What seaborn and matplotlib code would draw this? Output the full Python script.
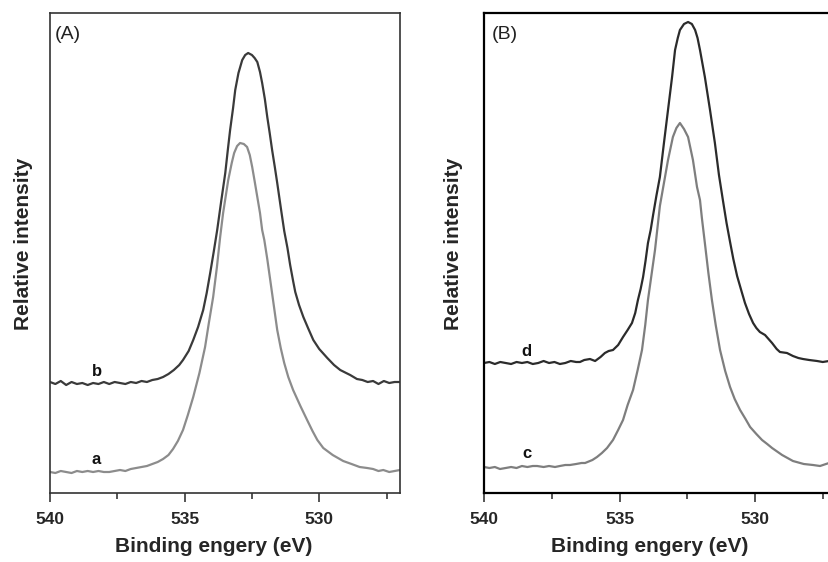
import pandas as pd
import matplotlib
matplotlib.use("Agg")
import matplotlib.pyplot as plt
import seaborn as sns

# Panel A, curve a (grey, lower)
a_energy = [540.0, 539.8, 539.6, 539.4, 539.2, 539.0, 538.8, 538.6, 538.4, 538.2, 538.0, 537.8,
            537.6, 537.4, 537.2, 537.0, 536.8, 536.6, 536.4, 536.2, 536.0, 535.8, 535.6, 535.43,
            535.25, 535.06, 534.88, 534.68, 534.45, 534.24, 534.1, 533.94, 533.8, 533.68, 533.57,
            533.38, 533.25, 533.16, 533.05, 532.94, 532.8, 532.68, 532.58, 532.49, 532.4, 532.3,
            532.2, 532.12, 532.04, 531.93, 531.82, 531.69, 531.56, 531.43, 531.3, 531.15, 530.97,
            530.7, 530.45, 530.25, 530.07, 529.85, 529.5, 529.11, 528.8, 528.5, 528.22, 528.0,
            527.8, 527.62, 527.4, 527.2, 527.0]
a_intensity = [21, 20, 22, 21, 20, 22, 21, 22, 21, 22, 21, 21,
               22, 23, 22, 24, 25, 26, 27, 29, 31, 34, 38, 44,
               52, 63, 78, 96, 120, 146, 170, 196, 226, 256, 280,
               313, 330, 340, 347, 350, 349, 346, 338, 326, 312, 296,
               280, 263, 253, 234, 213, 188, 163, 145, 130, 116, 103,
               87, 73, 62, 53, 45, 38, 32, 29, 26, 25, 24,
               22, 23, 21, 22, 23]

# Panel A, curve b (dark, upper)
b_energy = [540.0, 539.8, 539.6, 539.4, 539.2, 539.0, 538.8, 538.6, 538.4, 538.2, 538.0, 537.8,
            537.6, 537.4, 537.2, 537.0, 536.8, 536.6, 536.4, 536.2, 536.0, 535.8, 535.6, 535.4,
            535.2, 535.06, 534.85, 534.68, 534.5, 534.31, 534.18, 534.05, 533.92, 533.79, 533.64,
            533.49, 533.4, 533.31, 533.2, 533.12, 533.0, 532.86, 532.75, 532.64, 532.5, 532.4,
            532.3, 532.2, 532.12, 532.02, 531.93, 531.84, 531.75, 531.65, 531.56, 531.41, 531.3,
            531.18, 531.08, 530.97, 530.89, 530.75, 530.59, 530.4, 530.22, 530.0, 529.7, 529.45,
            529.22, 529.0, 528.85, 528.6, 528.4, 528.2, 528.0, 527.8, 527.6, 527.4, 527.2, 527.0]
b_intensity = [111, 109, 112, 108, 111, 109, 110, 108, 110, 109, 111, 109,
               111, 110, 109, 111, 110, 112, 111, 113, 114, 116, 119, 123,
               128, 133, 142, 153, 166, 183, 200, 220, 241, 263, 292,
               320, 342, 363, 385, 403, 420, 433, 438, 440, 438, 435,
               431, 421, 410, 394, 376, 360, 343, 326, 310, 282, 262,
               245, 228, 212, 201, 188, 176, 164, 153, 144, 135, 128,
               123, 120, 118, 114, 113, 111, 112, 109, 112, 110, 111, 111]

# Panel B, curve c (grey, lower)
c_energy = [540.0, 539.8, 539.6, 539.41, 539.2, 539.0, 538.8, 538.6, 538.4, 538.2, 538.04, 537.8,
            537.6, 537.38, 537.2, 537.0, 536.83, 536.6, 536.4, 536.27, 536.0, 535.83, 535.65,
            535.46, 535.24, 535.05, 534.87, 534.7, 534.5, 534.33, 534.17, 534.05, 533.95, 533.82,
            533.69, 533.6, 533.51, 533.36, 533.21, 533.03, 532.9, 532.77, 532.62, 532.47, 532.29,
            532.14, 532.03, 531.96, 531.85, 531.72, 531.59, 531.45, 531.29, 531.1, 530.92, 530.75,
            530.55, 530.35, 530.18, 529.95, 529.74, 529.55, 529.37, 529.0, 528.6, 528.2, 527.86,
            527.6, 527.27, 527.0]
c_intensity = [26, 25, 26, 24, 25, 26, 25, 27, 26, 27, 27, 26,
               27, 26, 27, 28, 28, 29, 30, 30, 33, 36, 40,
               45, 53, 63, 73, 88, 103, 123, 143, 168, 193, 218,
               243, 265, 287, 310, 333, 356, 365, 370, 364, 356, 333,
               306, 293, 275, 250, 220, 193, 168, 143, 122, 106, 94,
               83, 74, 66, 59, 53, 49, 45, 38, 32, 29, 28,
               27, 30, 28]

# Panel B, curve d (dark, upper)
d_energy = [540.0, 539.8, 539.6, 539.4, 539.2, 539.0, 538.8, 538.6, 538.4, 538.2, 538.0, 537.8,
            537.6, 537.4, 537.2, 537.0, 536.8, 536.6, 536.46, 536.3, 536.09, 535.9, 535.7, 535.54,
            535.4, 535.24, 535.05, 534.87, 534.7, 534.54, 534.42, 534.32, 534.22, 534.13, 534.04,
            533.95, 533.85, 533.76, 533.64, 533.51, 533.36, 533.21, 533.06, 532.95, 532.85, 532.77,
            532.62, 532.47, 532.33, 532.21, 532.12, 532.03, 531.85, 531.66, 531.48, 531.33, 531.18,
            531.05, 530.92, 530.8, 530.66, 530.5, 530.37, 530.22, 530.07, 529.95, 529.82, 529.63,
            529.5, 529.37, 529.2, 529.08, 528.82, 528.6, 528.4, 528.23, 528.0, 527.71, 527.5,
            527.27, 527.0]
d_intensity = [130, 131, 129, 131, 130, 129, 131, 130, 131, 129, 130, 132,
               130, 131, 129, 130, 132, 131, 131, 133, 134, 132, 136, 140,
               142, 143, 148, 156, 163, 170, 180, 193, 204, 216, 232,
               250, 263, 278, 297, 316, 350, 383, 416, 443, 455, 463,
               469, 471, 469, 463, 455, 443, 416, 383, 350, 318, 292,
               270, 251, 234, 217, 202, 190, 179, 170, 165, 161, 158,
               154, 150, 144, 141, 140, 137, 135, 134, 133, 132, 131,
               132, 131]

tick_values = [540, 535, 530]
tick_labels = ["540", "535", "530"]
minor_values = [537.5, 532.5, 527.5]

sns.set_style("ticks")
plt.rcParams['font.family'] = ['Liberation Sans', 'DejaVu Sans']

fig = plt.figure(figsize=(8.29, 5.62), dpi=100)
ax_a = fig.add_axes([50 / 829, 69 / 562, 350 / 829, 480 / 562])
ax_b = fig.add_axes([484 / 829, 69 / 562, 352.3 / 829, 480 / 562])

panels = [
    (ax_a, "(A)", [(a_energy, a_intensity, "#8c8c8c", "a"), (b_energy, b_intensity, "#3a3a3a", "b")],
     -0.049, 0.467, 0.014, 1.2, "#333333", 538.27),
    (ax_b, "(B)", [(c_energy, c_intensity, "#7e7e7e", "c"), (d_energy, d_intensity, "#2b2b2b", "d")],
     -0.060, 0.469, 0.023, 1.6, "black", 538.42),
]

for ax, tag, curves, ylab_x, xlab_x, tag_x, spine_w, spine_c, label_e in panels:
    for energy, intensity, color, name in curves:
        df = pd.DataFrame({"energy": energy, "intensity": intensity})
        sns.lineplot(data=df, x="energy", y="intensity", ax=ax, color=color, linewidth=1.6)
        # curve letter sits just above the left baseline
        ax.text(label_e, intensity[9] + 12, name, ha="center", va="center",
                fontsize=12, fontweight="bold", color="#111111")

    ax.set_xlim(540, 527)
    ax.set_ylim(0, 480)
    ax.set_yticks([])
    ax.set_xticks(tick_values)
    ax.set_xticklabels(tick_labels, fontsize=12.5, fontweight="bold")
    ax.set_xticks(minor_values, minor=True)
    ax.tick_params(axis="x", which="major", length=6.5, width=1.1, pad=7, direction="out")
    ax.tick_params(axis="x", which="minor", length=4.3, width=1.1, direction="out")
    for sp in ax.spines.values():
        sp.set_linewidth(spine_w)
        sp.set_color(spine_c)

    ax.set_xlabel("Binding engery (eV)", fontsize=15, fontweight="bold")
    ax.set_ylabel("Relative intensity", fontsize=15, fontweight="bold")
    ax.xaxis.set_label_coords(xlab_x, -0.092)
    ax.yaxis.set_label_coords(ylab_x, 0.52)
    ax.text(tag_x, 0.956, tag, transform=ax.transAxes, ha="left", va="center",
            fontsize=14, color="#222222")

plt.savefig("out.png", dpi=100)
plt.close()
